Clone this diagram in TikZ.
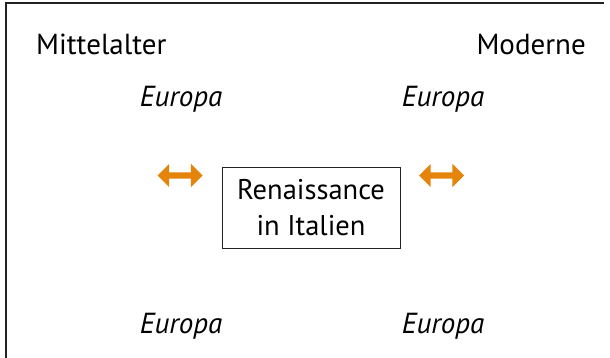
\documentclass[tikz,border=0pt]{standalone}
\usepackage{fontspec}
\setmainfont{PT Sans}
\usetikzlibrary{shapes.arrows}
\definecolor{arroworange}{RGB}{228,132,10}
\definecolor{framegray}{RGB}{35,35,35}
\tikzset{
	epochnode/.style={font=\fontsize{29}{34}\selectfont, inner sep=0pt},
	placenode/.style={font=\fontsize{29}{34}\selectfont\itshape, inner sep=0pt},
	rectnode/.style={rectangle, draw=framegray, line width=1pt, minimum width=178pt, minimum height=80pt, align=center, font=\fontsize{28.5}{36}\selectfont},
	swapnode/.style={double arrow, fill=arroworange, minimum height=45pt, inner xsep=0pt, inner ysep=3pt, double arrow head extend=8.5pt}
}

\begin{document}
\begin{tikzpicture}[x=1pt, y=-1pt]
		\useasboundingbox (0,0) rectangle (610,358);
		\draw[framegray, line width=2.5pt] (6,358) -- (6,3) -- (604,3);
		
		\node[epochnode, anchor=base west] at (36,55) (ma)    {Mittelalter};
		\node[epochnode, anchor=base east] at (586,55) (mo)    {Moderne};
		
		\node[placenode, anchor=base] at (181,107) (eu1)    {Europa};
		\node[placenode, anchor=base] at (443,107) (eu2)    {Europa};
		\node[placenode, anchor=base] at (181,333) (eu3)    {Europa};
		\node[placenode, anchor=base] at (443,333) (eu4)    {Europa};
		
		\node[rectnode] at (311,208) (ren)    {Renaissance\\in Italien};
		
		\node[swapnode] at (180,175.5) (la)    {};
		\node[swapnode] at (441.5,175.5) (ra)    {};
	\end{tikzpicture}
\end{document}
